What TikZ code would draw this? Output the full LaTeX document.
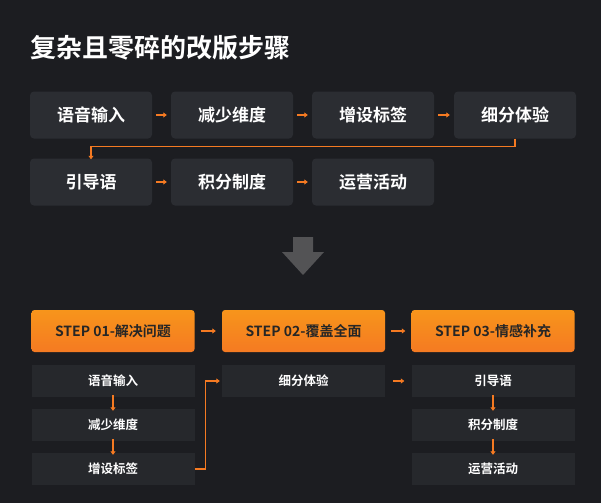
\documentclass[tikz,border=0pt]{standalone}
\usepackage{fontspec}
\newfontfamily\cjk{Noto Sans CJK SC Bold}
\usetikzlibrary{arrows.meta,calc}
\definecolor{bg}{HTML}{1C1D21}
\definecolor{boxc}{HTML}{2B2D32}
\definecolor{subc}{HTML}{26282C}
\definecolor{org}{HTML}{F57A22}
\tikzset{
 top/.style={fill=boxc,rounded corners=4pt,minimum width=122pt,minimum height=47pt,text=white,font=\cjk\fontsize{17}{17}\selectfont},
 hdr/.style={top color=org!80!yellow,bottom color=org,rounded corners=3pt,minimum width=163pt,minimum height=42pt,text=black!85,font=\cjk\fontsize{14}{14}\selectfont},
 sub/.style={fill=subc,minimum width=163pt,minimum height=32pt,text=white,font=\cjk\fontsize{12.5}{12.5}\selectfont},
 ar/.style={org,line width=1.5pt,-{Triangle[length=3.5pt,width=5pt]}}
}
\begin{document}
\begin{tikzpicture}[x=1pt,y=-1pt]
\fill[bg] (0,0) rectangle (601,503);
\useasboundingbox (0,0) rectangle (601,503);
\node[anchor=west,text=white,font=\cjk\fontsize{26}{26}\selectfont] (title) at (27,48) {复杂且零碎的改版步骤};
\node[top] (a1) at (91,115) {语音输入};
\node[top] (a2) at (232,115) {减少维度};
\node[top] (a3) at (373,115) {增设标签};
\node[top] (a4) at (515,115) {细分体验};
\node[top] (b1) at (91,182) {引导语};
\node[top] (b2) at (232,182) {积分制度};
\node[top] (b3) at (373,182) {运营活动};
\foreach \p/\q in {a1/a2,a2/a3,a3/a4,b1/b2,b2/b3}{\draw[ar] ([xshift=4pt]\p.east) -- ([xshift=-4pt]\q.west);}
\draw[ar] (a4.south) -- ++(0,8) -| ([yshift=-1pt]b1.north);
\fill[gray!55!bg] (293,237) rectangle (313,252) (282,252) -- (324,252) -- (303,275) -- cycle;
\node[hdr] (h1) at (113,331) {STEP 01-解决问题};
\node[hdr] (h2) at (303.5,331) {STEP 02-覆盖全面};
\node[hdr] (h3) at (493,331) {STEP 03-情感补充};
\node[sub] (s1) at (113,381) {语音输入};
\node[sub] (s2) at (113,425) {减少维度};
\node[sub] (s3) at (113,469) {增设标签};
\node[sub] (t1) at (303.5,381) {细分体验};
\node[sub] (u1) at (493,381) {引导语};
\node[sub] (u2) at (493,425) {积分制度};
\node[sub] (u3) at (493,469) {运营活动};
\draw[ar] ([xshift=6pt]h1.east) -- ([xshift=-6pt]h2.west);
\draw[ar] ([xshift=6pt]h2.east) -- ([xshift=-6pt]h3.west);
\foreach \p/\q in {s1/s2,s2/s3,u1/u2,u2/u3}{\draw[ar] ([yshift=2pt]\p.south) -- ([yshift=-2pt]\q.north);}
\draw[ar] (s3.east) -- ++(11,0) |- ([xshift=-2pt]t1.west);
\draw[ar] ([xshift=8pt]t1.east) -- ([xshift=-7pt]u1.west);
\end{tikzpicture}
\end{document}
